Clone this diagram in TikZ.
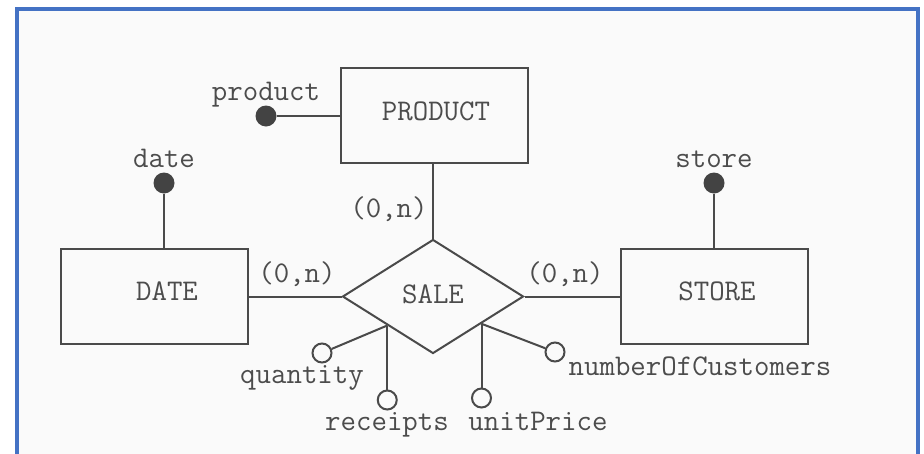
\documentclass[tikz,border=0pt]{standalone}
\usepackage{fontspec}
\usetikzlibrary{shapes.geometric,calc}
\definecolor{frameblue}{HTML}{4472C4}
\definecolor{paper}{HTML}{FAFAFA}
\definecolor{ink}{HTML}{4A4A4A}
\definecolor{txt}{HTML}{4C4C4C}
\tikzset{
  er/.style={draw=ink, line width=2pt},
  entity/.style={er, rectangle, minimum width=187pt, minimum height=95pt, inner sep=0pt},
  relation/.style={er, diamond, minimum width=181pt, minimum height=114pt, inner sep=0pt},
  lbl/.style={font=\ttfamily\fontsize{30}{32}\selectfont, text=txt, inner sep=0pt, anchor=base},
  link/.style={draw=ink, line width=2pt},
  keydot/.style={circle, fill=ink!90!black, minimum size=21pt, inner sep=0pt},
  optattr/.style={circle, draw=ink, line width=2pt, fill=paper, minimum size=19pt, inner sep=0pt}
}
\begin{document}
\begin{tikzpicture}[x=1pt,y=-1pt]
  % page and frame
  \useasboundingbox (0,0) rectangle (924,453);
  \fill[white] (0,0) rectangle (924,453);
  \fill[paper] (17,9) rectangle (918,460);
  \draw[frameblue, line width=4pt] (17,470) -- (17,9) -- (918,9) -- (918,470);

  % entities and relationship
  \node[entity] (product) at (434,115.5) {};
  \node[entity] (date) at (154.5,296.5) {};
  \node[entity] (store) at (714.5,296.5) {};
  \node[relation] (sale) at (433,296.5) {};

  \node[lbl] (tproduct) at (436,120) {PRODUCT};
  \node[lbl] (tdate) at (167,300) {DATE};
  \node[lbl] (tstore) at (717,300) {STORE};
  \node[lbl] (tsale) at (433,303) {SALE};

  % identifiers
  \node[keydot] (kproduct) at (266,116) {};
  \node[keydot] (kdate) at (164,183) {};
  \node[keydot] (kstore) at (714,183) {};
  \node[lbl] (lproduct) at (266,100) {product};
  \node[lbl] (ldate) at (164,167) {date};
  \node[lbl] (lstore) at (714,167) {store};

  \draw[link] (kproduct) -- (product.west |- kproduct);
  \draw[link] (kdate) -- (kdate |- date.north);
  \draw[link] (kstore) -- (kstore |- store.north);

  % participations
  \draw[link] (product.south -| sale.north) -- (sale.north);
  \draw[link] (date.east) -- (sale.west);
  \draw[link] (sale.east) -- (store.west);
  \node[lbl] (cproduct) at (389,217) {(0,n)};
  \node[lbl] (cdate) at (297,282) {(0,n)};
  \node[lbl] (cstore) at (565,282) {(0,n)};

  % attributes of SALE
  \coordinate (rootL) at ($(sale.west)!0.5!(sale.south)$);
  \coordinate (rootR) at ($(sale.east)!0.47!(sale.south)$);
  \node[optattr] (aquantity) at (322,353) {};
  \node[optattr] (areceipts) at (rootL |- 0,400) {};
  \node[optattr] (aunitprice) at (rootR |- 0,398) {};
  \node[optattr] (acustomers) at (555,352) {};
  \draw[link] (rootL) -- (aquantity);
  \draw[link] (rootL) -- (areceipts);
  \draw[link] (rootR) -- (aunitprice);
  \draw[link] (rootR) -- (acustomers);
  \node[lbl] (lquantity) at (302,383) {quantity};
  \node[lbl] (lreceipts) at (387,430) {receipts};
  \node[lbl] (lunitprice) at (538,430) {unitPrice};
  \node[lbl] (lcustomers) at (700,375) {numberOfCustomers};
\end{tikzpicture}
\end{document}
